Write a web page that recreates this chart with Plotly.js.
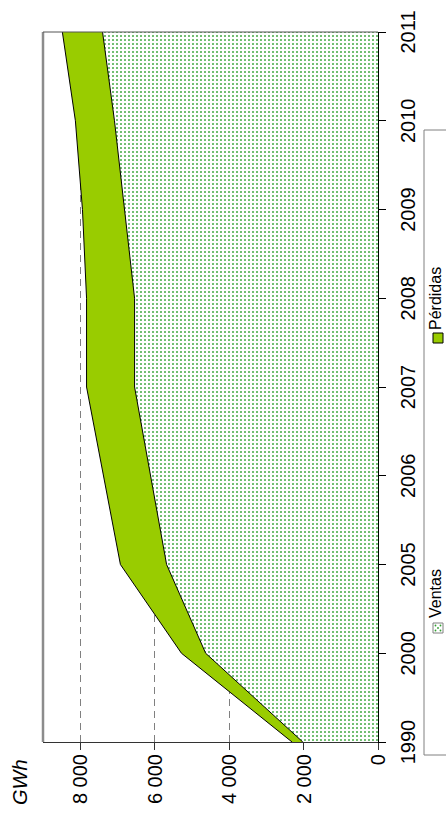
<!DOCTYPE html>
<html><head><meta charset="utf-8">
<script src="https://cdn.plot.ly/plotly-3.0.1.min.js"></script>
<style>
html,body{margin:0;padding:0;width:446px;height:814px;overflow:hidden;background:#fff}
#chart{position:absolute;left:0;top:0;width:814px;height:446px;transform-origin:0 0;transform:translateY(814px) rotate(-90deg);}
</style></head><body><div id="chart"></div>
<script>
const years = ['1990','2000','2005','2006','2007','2008','2009','2010','2011'];
const ventas = [2020, 4630, 5680, 6110, 6540, 6540, 6810, 7080, 7400];
const perdidas = [290, 650, 1240, 1270, 1290, 1290, 1130, 1050, 1080];
const yTicks = [0, 2000, 4000, 6000, 8000];
const seriesNames = ['Ventas', 'Pérdidas'];
const unitLabel = 'GWh';

const W = 814, H = 446, ML = 72, MR = 32, MT = 43, MB = 68;
const PW = W - ML - MR, PH = H - MT - MB;
const px = lx => (lx - ML) / PW;
const py = ly => (MT + PH - ly) / PH;

const traces = [
  {type:'scatter', x:years, y:ventas, name:seriesNames[0], stackgroup:'one', mode:'lines',
   line:{color:'#000', width:1}, fillcolor:'#ffffff',
   fillpattern:{shape:'.', fgcolor:'#30a030', bgcolor:'#ffffff', size:4, solidity:0.16}},
  {type:'scatter', x:years, y:perdidas, name:seriesNames[1], stackgroup:'one', mode:'lines',
   line:{color:'#000', width:1}, fillcolor:'#99cc00'}
];

function dot(cx, cy){
  return {type:'circle', xref:'paper', yref:'paper', xsizemode:'pixel', ysizemode:'pixel',
    xanchor:px(cx), yanchor:py(cy), x0:-0.9, x1:0.9, y0:-0.9, y1:0.9,
    fillcolor:'#30a030', line:{width:0}};
}

const shapes = [
  {type:'line', xref:'paper', yref:'paper', x0:0, x1:1, y0:1, y1:1, line:{color:'#8c8c8c', width:2.5}},
  {type:'line', xref:'paper', yref:'paper', x0:1, x1:1, y0:0, y1:1, line:{color:'#555555', width:1}},
  {type:'rect', xref:'paper', yref:'paper', x0:px(59), x1:px(684), y0:py(475), y1:py(424), line:{color:'#808080', width:1}, fillcolor:'rgba(0,0,0,0)'},
  {type:'rect', xref:'paper', yref:'paper', x0:px(181), x1:px(191), y0:py(443), y1:py(433), line:{color:'#808080', width:1}, fillcolor:'#ffffff'},
  dot(183.5,435.5), dot(188.5,435.5), dot(186,438), dot(183.5,440.5), dot(188.5,440.5),
  {type:'rect', xref:'paper', yref:'paper', x0:px(471), x1:px(481), y0:py(443), y1:py(433), line:{color:'#000', width:1}, fillcolor:'#99cc00'}
];

const annotations = [
  {text:unitLabel, xref:'paper', yref:'paper', x:px(7), y:py(20), xanchor:'left', yanchor:'middle', showarrow:false,
   font:{size:20, style:'italic', color:'#000'}},
  {text:seriesNames[0], xref:'paper', yref:'paper', x:px(195), y:py(435), xanchor:'left', yanchor:'middle', showarrow:false, borderpad:0, font:{size:16}},
  {text:seriesNames[1], xref:'paper', yref:'paper', x:px(483), y:py(435), xanchor:'left', yanchor:'middle', showarrow:false, borderpad:0, font:{size:16}}
];

const layout = {
  width:W, height:H, margin:{l:ML, r:MR, t:MT, b:MB, pad:0},
  paper_bgcolor:'#ffffff', plot_bgcolor:'#ffffff', showlegend:false,
  separators:', ',
  font:{family:'Liberation Sans, Arial, sans-serif', size:20, color:'#000'},
  xaxis:{type:'category', range:[0, years.length-1], showline:true, linecolor:'#000', linewidth:1,
    ticks:'outside', ticklen:7, tickcolor:'#000', showgrid:false, zeroline:false, automargin:false,
    ticklabelstandoff:5},
  xaxis2:{type:'linear', overlaying:'x', anchor:'y', side:'bottom', range:[0, years.length-1], tick0:0, dtick:1,
    ticks:'inside', ticklen:6, tickcolor:'#000', showticklabels:false, showgrid:false, showline:false, zeroline:false},
  yaxis:{range:[0, 9000], tickvals:yTicks, tickformat:',d', showline:true, linecolor:'#333', linewidth:1,
    ticks:'outside', ticklen:7, tickcolor:'#333', showgrid:true, gridcolor:'#808080', griddash:'7px,5px', gridwidth:1,
    zeroline:false, automargin:false, ticklabelstandoff:0},
  shapes:shapes, annotations:annotations
};

Plotly.newPlot('chart', traces, layout, {staticPlot:true, displayModeBar:false});
</script></body></html>
